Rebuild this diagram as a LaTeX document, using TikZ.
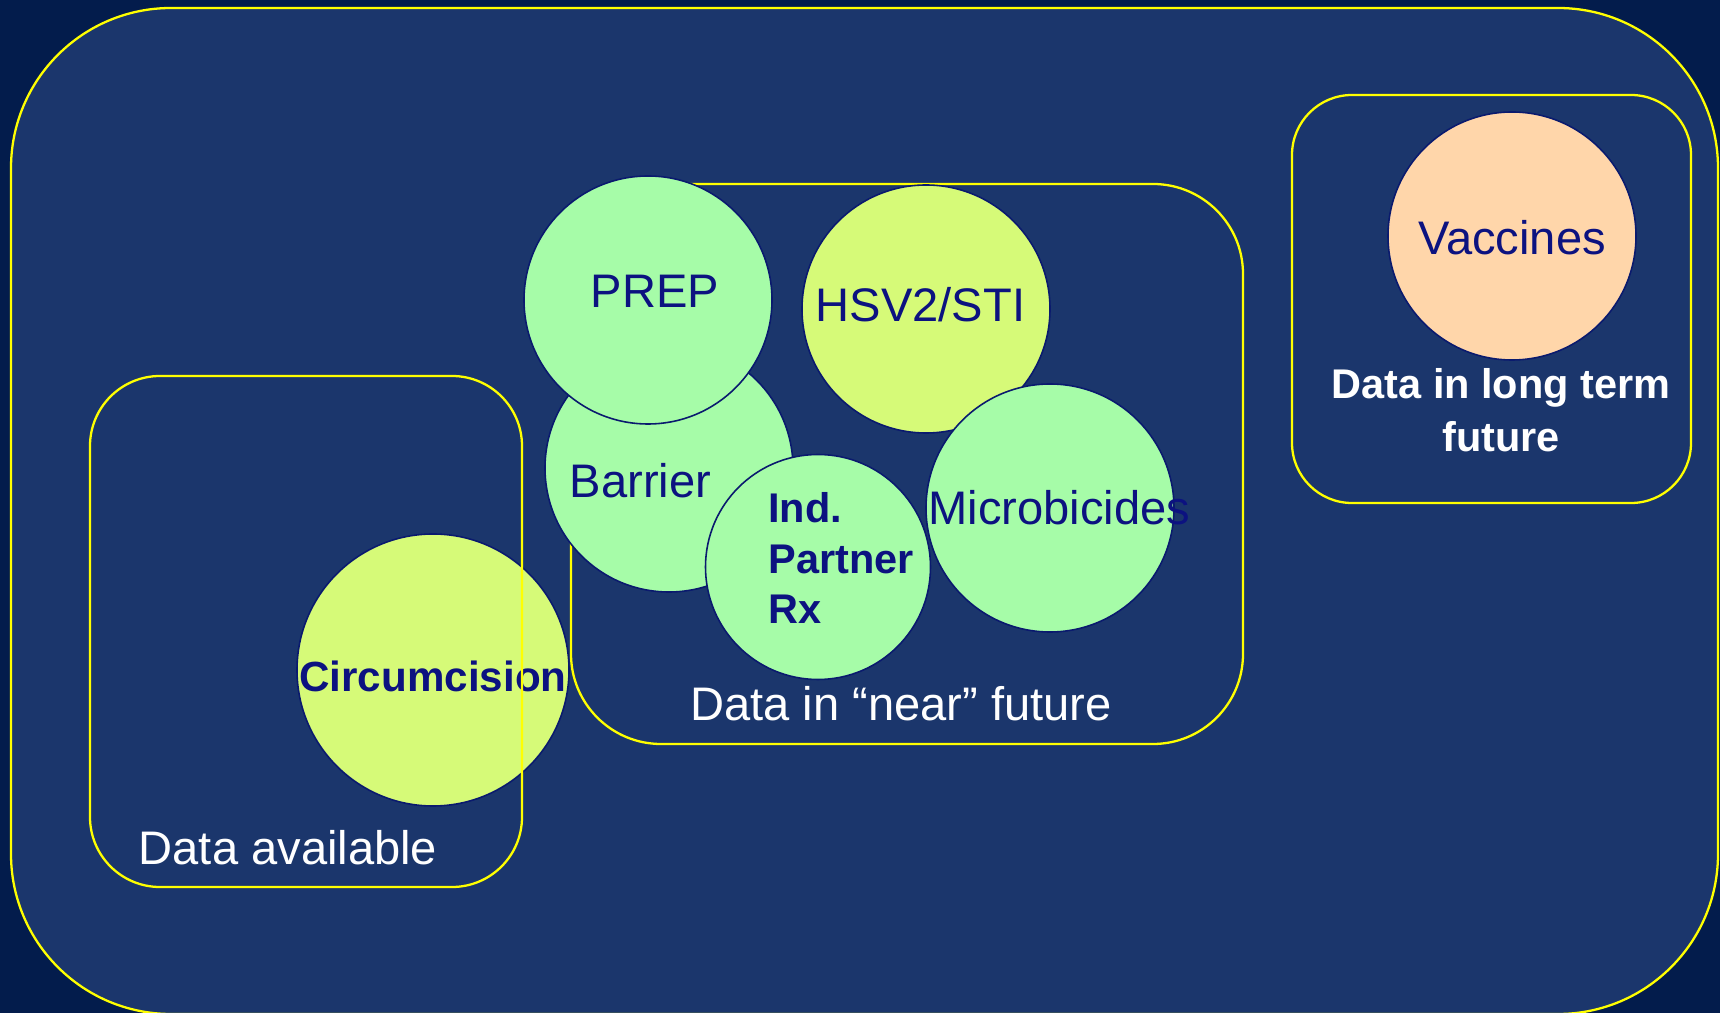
\documentclass[tikz,border=0pt]{standalone}
\usepackage{fontspec}
\setmainfont{Liberation Sans}
\usetikzlibrary{positioning}
\definecolor{bgnavy}{HTML}{031C4C}
\definecolor{boxblue}{HTML}{1B366C}
\definecolor{lineyellow}{HTML}{FFFF00}
\definecolor{mint}{HTML}{A6FCA8}
\definecolor{lime}{HTML}{D6FA78}
\definecolor{peach}{HTML}{FFD6AA}
\definecolor{rim}{HTML}{0A1A6E}
\definecolor{ink}{HTML}{0C1280}
\newcommand{\bigtxt}{\fontsize{13.4}{16}\selectfont}
\newcommand{\boldtxt}{\fontsize{11.8}{14.5}\selectfont\bfseries}
\newcommand{\farfont}{\fontsize{11.8}{15.1}\selectfont\bfseries}
\tikzset{
  zone/.style={draw=lineyellow,line width=0.65pt,rounded corners=#1},
  zone/.default=0.7cm,
  bubble/.style={circle,draw=rim,line width=0.45pt,inner sep=0pt,minimum size=2.48cm},
  every label/.style={text=ink,font=\bigtxt,inner sep=0pt},
}

\begin{document}
\begin{tikzpicture}
% \draw[help lines] (0,0) grid (17,10);
\useasboundingbox[fill=bgnavy] (0,0) rectangle (17.2,10.13);
\path[zone=1.6cm,fill=boxblue] (0.11,-0.01) rectangle (17.18,10.05);
\path[zone=0.9cm] (5.71,2.69) rectangle (12.43,8.29);
\path[zone=0.6cm] (12.92,5.10) rectangle (16.91,9.18);
%
\node (circ) [bubble,fill=lime,minimum size=2.72cm,label={[font=\fontsize{12}{14}\selectfont\bfseries,yshift=-0.06cm]center:Circumcision}] at (4.33,3.43) {};
\path[zone] (0.90,1.26) rectangle (5.22,6.37);
%
\node (barrier) [bubble,fill=mint,label={[xshift=-0.285cm,yshift=-0.125cm]center:Barrier}] at (6.69,5.45) {};
\node (prep) [bubble,fill=mint,label={[xshift=0.07cm,yshift=0.085cm]center:PREP}] at (6.48,7.13) {};
\node (hsv) [bubble,fill=lime,label={[xshift=-0.055cm,yshift=0.04cm]center:HSV2/STI}] at (9.26,7.04) {};
\node (ipr) [bubble,fill=mint,minimum size=2.25cm,label={[font=\boldtxt,align=left,xshift=0.23cm,yshift=0.09cm]center:Ind.\\Partner\\Rx}] at (8.18,4.46) {};
\node (micro) [bubble,fill=mint,label={[xshift=0.095cm]center:Microbicides}] at (10.50,5.05) {};
\node (vacc) [bubble,fill=peach,label={[yshift=-0.02cm]center:Vaccines}] at (15.12,7.77) {};
%
\node (availtxt) [anchor=base,text=white,font=\bigtxt] at (2.88,1.48) {Data available};
\node (neartxt) [anchor=base,text=white,font=\bigtxt] at (9.01,2.92) {Data in “near” future};
\node (fartxt) [anchor=base,align=center,text=white,font=\farfont] at (15.01,5.61) {Data in long term\\future};
\end{tikzpicture}
\end{document}
